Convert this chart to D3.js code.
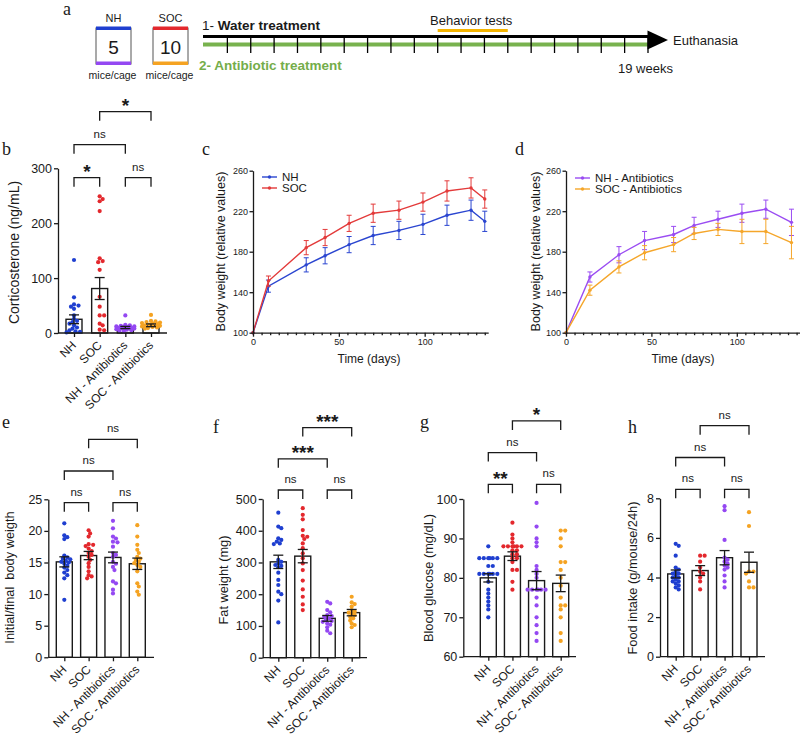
<!DOCTYPE html>
<html><head><meta charset="utf-8">
<script src="https://cdn.jsdelivr.net/npm/d3@7"></script>
<style>
body{margin:0;background:#fff}
svg{display:block}
text{font-family:"Liberation Sans",Arial,sans-serif;fill:#1a1a1a}
</style>
</head><body>
<svg id="chart" width="800" height="737"></svg>
<script>
// ---------------- DATA ----------------
const groups = ["NH", "SOC", "NH - Antibiotics", "SOC - Antibiotics"];
const groupColors = ["#1f3fd0", "#e3282d", "#9448f2", "#f5a322"];

// panel a
const cageNames = ["NH", "SOC"];
const micePerCage = [5, 10];
const cageTopColors = ["#1f3fd0", "#e3282d"];
const cageBottomColors = ["#9448f2", "#f5a322"];
const totalWeeks = 19;
const behaviorWeeks = [10, 13];

// comparisons (pairs of group indices, bracket level)
const bracketPairs = [[0, 1], [2, 3], [0, 2], [1, 3]];
const bracketLevels = [0, 0, 1, 2];

// panel b: corticosterone (ng/mL)
const bNH = [133, 65, 52, 50, 48, 44, 32, 26, 22, 20, 17, 14, 10, 8, 5, 3, 2, 1];
const bSOC = [249, 244, 240, 222, 136, 131, 129, 115, 66, 48, 32, 32, 17, 14, 6, 5];
const bNHAb = [32, 15, 14, 13, 12, 12, 11, 11, 10, 10, 9, 9, 8, 8, 7, 6, 5, 4, 3];
const bSOCAb = [33, 22, 21, 20, 19, 18, 17, 16, 15, 14, 13, 12, 11, 10, 9, 8];
const bMeans = [25, 81, 10, 14];
const bSems = [8, 20, 2, 2.5];
const bSig = ["*", "ns", "ns", "*"];
const bTicks = [0, 100, 200, 300];

// panel c: body weight NH vs SOC
const cDays = [0, 9, 31, 42, 56, 70, 85, 99, 113, 127, 135];
const cNH = [100, 146, 167, 176, 187, 196, 201, 207, 216, 221, 210];
const cNHErr = [0, 6, 7, 8, 8, 9, 9, 10, 10, 10, 10];
const cSOC = [100, 151, 184, 194, 208, 218, 221, 229, 240, 243, 232];
const cSOCErr = [0, 5, 7, 8, 8, 9, 9, 9, 10, 10, 9];

// panel d: body weight with antibiotics
const dDays = [0, 14, 31, 46, 63, 75, 89, 103, 117, 132];
const dNHAb = [100, 155, 177, 191, 197, 206, 212, 218, 222, 209];
const dNHAbErr = [0, 5, 8, 9, 8, 8, 8, 9, 9, 13];
const dSOCAb = [100, 142, 165, 179, 187, 198, 202, 200, 200, 189];
const dSOCAbErr = [0, 5, 6, 7, 7, 6, 6, 12, 12, 16];
const bwTicks = [100, 140, 180, 220, 260];
const dayTicks = [0, 50, 100];

// panel e: initial/final body weight
const eNH = [21.2, 19.3, 19.0, 18.7, 16.1, 15.8, 15.6, 15.5, 15.3, 15.1, 15.0, 14.8, 14.5, 14.2, 13.8, 13.4, 13.0, 12.5, 9.1];
const eSOC = [20.1, 19.6, 19.1, 17.9, 17.8, 17.6, 17.2, 16.8, 16.5, 16.2, 15.9, 15.4, 14.9, 14.3, 13.6, 13.0, 12.8, 12.5];
const eNHAb = [21.6, 20.4, 19.1, 18.8, 18.3, 18.2, 17.5, 16.5, 16.2, 15.9, 15.1, 14.8, 14.3, 13.8, 12.0, 11.7, 10.7, 10.1];
const eSOCAb = [20.9, 19.1, 17.8, 17.0, 16.5, 15.9, 15.6, 15.4, 15.1, 14.9, 14.6, 14.3, 13.6, 11.7, 11.2, 10.4, 9.9];
const eMeans = [15.1, 16.1, 15.8, 14.8];
const eSems = [0.8, 0.65, 0.85, 0.9];
const eSig = ["ns", "ns", "ns", "ns"];
const eTicks = [0, 5, 10, 15, 20, 25];

// panel f: fat weight (mg)
const fNH = [457, 413, 408, 376, 371, 366, 360, 358, 308, 302, 297, 292, 289, 285, 268, 245, 229, 208, 200, 180, 111];
const fSOC = [471, 450, 436, 402, 384, 381, 374, 360, 345, 329, 313, 297, 276, 243, 215, 192, 168, 150];
const fNHAb = [176, 171, 150, 143, 134, 131, 129, 124, 119, 116, 113, 108, 104, 96, 85, 77];
const fSOCAb = [192, 174, 169, 161, 150, 145, 142, 138, 134, 128, 124, 117, 108, 103, 96];
const fMeans = [302, 320, 124, 142];
const fSems = [21, 21, 9, 10];
const fSig = ["ns", "ns", "***", "***"];
const fTicks = [0, 100, 200, 300, 400, 500];

// panel g: blood glucose (mg/dL)
const gNH = [88, 85, 85, 85, 85, 85, 85, 83, 83, 81, 81, 81, 81, 81, 81, 79, 77, 76, 75, 74, 73, 72, 70];
const gSOC = [94, 91, 90, 89, 88, 88, 88, 88, 88, 88, 87, 87, 86, 86, 85, 85, 84, 82, 82, 79, 77];
const gNHAb = [99, 93, 90, 89, 88, 83, 82, 81, 80, 77, 77, 77, 77, 77, 77, 75, 73, 70, 68, 66, 64];
const gSOCAb = [92, 92, 90, 88, 84, 84, 82, 80, 78, 75, 73, 73, 72, 70, 66, 64];
const gMeans = [80.0, 85.5, 79.3, 78.6];
const gSems = [1.05, 1.1, 2.3, 2.1];
const gSig = ["**", "ns", "ns", "*"];
const gTicks = [60, 70, 80, 90, 100];

// panel h: food intake (g/mouse/24h)
const hNH = [5.7, 5.6, 5.1, 4.5, 4.4, 4.3, 4.2, 4.2, 4.1, 4.0, 4.0, 3.9, 3.8, 3.8, 3.7, 3.6, 3.5, 3.4];
const hSOC = [5.1, 5.1, 4.8, 4.5, 4.3, 4.2, 4.0, 3.8, 3.4];
const hNHAb = [7.6, 7.4, 5.9, 5.0, 4.9, 4.8, 4.7, 4.6, 4.5, 4.4, 4.1, 3.8, 3.5];
const hSOCAb = [7.3, 6.6, 4.3, 4.3, 4.2, 3.8, 3.5, 3.5];
const hMeans = [4.18, 4.35, 5.0, 4.77];
const hSems = [0.2, 0.25, 0.36, 0.51];
const hSig = ["ns", "ns", "ns", "ns"];
const hTicks = [0, 2, 4, 6, 8];

// ---------------- DRAWING ----------------
const svg = d3.select("#chart");
const FONT = "'Liberation Sans', Arial, sans-serif";
const SERIF = "'Liberation Serif', 'Times New Roman', serif";
const INK = "#1a1a1a";

function letter(t, x, y) {
  svg.append("text").attr("x", x).attr("y", y).text(t)
    .style("font-family", SERIF).attr("font-size", 18);
}

// ---- panel a ----
(function () {
  letter("a", 63, 14.5);
  const ga = svg.append("g");
  cageNames.forEach((name, i) => {
    const bx = 96 + i * 57, w = 35;
    ga.append("rect").attr("x", bx).attr("y", 28).attr("width", w).attr("height", 36)
      .attr("fill", "#fff").attr("stroke", "#555").attr("stroke-width", 1);
    ga.append("rect").attr("x", bx).attr("y", 26.5).attr("width", w).attr("height", 3.5).attr("fill", cageTopColors[i]);
    ga.append("rect").attr("x", bx).attr("y", 61.5).attr("width", w).attr("height", 3.5).attr("fill", cageBottomColors[i]);
    ga.append("text").attr("x", bx + w / 2).attr("y", 53.5).attr("text-anchor", "middle")
      .attr("font-size", 19).text(micePerCage[i]);
    ga.append("text").attr("x", bx + w / 2).attr("y", 22).attr("text-anchor", "middle")
      .attr("font-size", 11).text(name);
    ga.append("text").attr("x", bx + w / 2 - 1).attr("y", 79).attr("text-anchor", "middle")
      .attr("font-size", 10.5).text("mice/cage");
  });
  const wk = d3.scaleLinear().domain([0, totalWeeks]).range([204, 648]);
  const t1 = ga.append("text").attr("x", 202).attr("y", 29.5).attr("font-size", 13.5);
  t1.append("tspan").text("1- ");
  t1.append("tspan").attr("font-weight", "bold").text("Water treatment");
  ga.append("line").attr("x1", 203).attr("x2", 650).attr("y1", 36.5).attr("y2", 36.5)
    .attr("stroke", "#000").attr("stroke-width", 3);
  ga.append("line").attr("x1", 203).attr("x2", 648).attr("y1", 44.5).attr("y2", 44.5)
    .attr("stroke", "#78b24e").attr("stroke-width", 4);
  ga.selectAll("line.wk").data(d3.range(1, totalWeeks + 1)).join("line").attr("class", "wk")
    .attr("x1", d => wk(d)).attr("x2", d => wk(d)).attr("y1", 36).attr("y2", 53)
    .attr("stroke", "#000").attr("stroke-width", 1.3);
  ga.append("path").attr("d", "M647.5,30.5L668,40L647.5,49.5Z").attr("fill", "#000");
  ga.append("line").attr("x1", wk(behaviorWeeks[0])).attr("x2", wk(behaviorWeeks[1]))
    .attr("y1", 30.5).attr("y2", 30.5).attr("stroke", "#f4b400").attr("stroke-width", 3);
  ga.append("text").attr("x", 430).attr("y", 25).attr("font-size", 13).text("Behavior tests");
  ga.append("text").attr("x", 673).attr("y", 44.5).attr("font-size", 13).text("Euthanasia");
  ga.append("text").attr("x", 618).attr("y", 73).attr("font-size", 13).text(totalWeeks + " weeks");
  ga.append("text").attr("x", 199).attr("y", 70).attr("font-size", 13.5).attr("font-weight", "bold")
    .style("fill", "#74ad4a").text("2- Antibiotic treatment");
})();

// ---- swarm helper (compact, overlap allowed within bar width) ----
function swarmOffsets(vals, y, minD, maxHalf) {
  const pts = vals.map((v, i) => ({ i, py: y(v) })).sort((a, b) => a.py - b.py);
  const placed = [];
  const out = new Array(vals.length).fill(0);
  const step = 1.5;
  const cands = [0];
  for (let k = 1; k * step <= maxHalf; k++) { cands.push(k * step, -k * step); }
  pts.forEach(p => {
    let best = 0, bestD = -1, found = false;
    for (const c of cands) {
      let md = Infinity;
      for (const q of placed) {
        const d = Math.hypot(q.x - c, q.y - p.py);
        if (d < md) md = d;
      }
      if (md >= minD) { best = c; found = true; break; }
      if (md > bestD) { bestD = md; best = c; }
    }
    placed.push({ x: best, y: p.py });
    out[p.i] = best;
  });
  return out;
}

function styleAxis(sel, fs) {
  sel.attr("font-family", FONT).attr("font-size", fs);
  sel.selectAll("path,line").attr("stroke", INK).attr("stroke-width", 1.3);
  sel.selectAll("text").style("fill", INK);
}

// ---- bar panel ----
function barPanel(cfg) {
  const g = svg.append("g");
  const y = d3.scaleLinear().domain(cfg.domain).range(cfg.yRange);
  const x = d3.scalePoint().domain(groups).range(cfg.xRange);
  const y0 = y(cfg.domain[0]);
  const bw = 16;
  g.selectAll("rect.bar").data(cfg.means).join("rect").attr("class", "bar")
    .attr("x", (d, i) => x(groups[i]) - bw / 2).attr("y", d => y(d))
    .attr("width", bw).attr("height", d => y0 - y(d))
    .attr("fill", "#fff").attr("stroke", INK).attr("stroke-width", 1.4);
  cfg.data.forEach((vals, i) => {
    const offs = swarmOffsets(vals, y, 3.2, 9);
    g.selectAll(null).data(vals).join("circle")
      .attr("cx", (d, j) => x(groups[i]) + offs[j]).attr("cy", d => y(d)).attr("r", 2.1)
      .attr("fill", groupColors[i]);
  });
  cfg.means.forEach((m, i) => {
    const cx = x(groups[i]), s = cfg.sems[i];
    const eg = g.append("g").attr("stroke", INK).attr("stroke-width", 1.3);
    eg.append("line").attr("x1", cx).attr("x2", cx).attr("y1", y(m - s)).attr("y2", y(m + s));
    eg.append("line").attr("x1", cx - 5).attr("x2", cx + 5).attr("y1", y(m + s)).attr("y2", y(m + s));
    eg.append("line").attr("x1", cx - 5).attr("x2", cx + 5).attr("y1", y(m - s)).attr("y2", y(m - s));
  });
  const ya = g.append("g").attr("transform", `translate(${cfg.x0},0)`)
    .call(d3.axisLeft(y).tickValues(cfg.ticks).tickSize(4).tickSizeOuter(0).tickPadding(2));
  styleAxis(ya, 12.5);
  const xa = g.append("g").attr("transform", `translate(0,${y0})`)
    .call(d3.axisBottom(x).tickSize(4).tickSizeOuter(0));
  xa.select(".domain").remove();
  xa.append("line").attr("x1", cfg.x0).attr("x2", cfg.x1).attr("y1", 0).attr("y2", 0);
  styleAxis(xa, 12);
  xa.selectAll(".tick text").attr("x", null).attr("y", null).attr("dy", null)
    .attr("text-anchor", "end").attr("transform", "translate(2.5,13) rotate(-45)");
  g.append("text").attr("transform", `translate(${cfg.ylx},${cfg.yly}) rotate(-90)`)
    .attr("text-anchor", "middle").attr("font-size", cfg.ylfs || 12.8).style("white-space", "pre")
    .text(cfg.ylabel);
  bracketPairs.forEach((p, k) => {
    const x1 = x(groups[p[0]]), x2 = x(groups[p[1]]);
    const yb = cfg.bracketBase - bracketLevels[k] * cfg.bracketStep;
    g.append("path").attr("d", `M${x1},${yb + 9}V${yb}H${x2}V${yb + 9}`)
      .attr("fill", "none").attr("stroke", INK).attr("stroke-width", 1.3);
    const lab = cfg.sig[k];
    const t = g.append("text").attr("x", (x1 + x2) / 2).attr("text-anchor", "middle").text(lab);
    if (lab === "ns") t.attr("y", yb - 7).attr("font-size", 11.5);
    else t.attr("y", yb + 0.5).attr("font-size", 19).attr("font-weight", "bold");
  });
  letter(cfg.letter, cfg.lx, cfg.ly);
}

barPanel({ data: [bNH, bSOC, bNHAb, bSOCAb], means: bMeans, sems: bSems, sig: bSig,
  domain: [0, 300], ticks: bTicks, yRange: [333, 168.3], xRange: [74, 151], x0: 58, x1: 167,
  bracketBase: 177.7, bracketStep: 33, ylabel: "Corticosterone (ng/mL)", ylx: 19, yly: 252.5, ylfs: 14,
  letter: "b", lx: 2, ly: 155 });

barPanel({ data: [eNH, eSOC, eNHAb, eSOCAb], means: eMeans, sems: eSems, sig: eSig,
  domain: [0, 25], ticks: eTicks, yRange: [657.3, 499.3], xRange: [64.3, 137.3], x0: 48.3, x1: 154,
  bracketBase: 502.7, bracketStep: 31.7, ylabel: "Initial/final  body weigth", ylx: 13.5, yly: 577.5,
  letter: "e", lx: 2, ly: 428 });

barPanel({ data: [fNH, fSOC, fNHAb, fSOCAb], means: fMeans, sems: fSems, sig: fSig,
  domain: [0, 500], ticks: fTicks, yRange: [657.7, 499], xRange: [278.3, 351.7], x0: 262.7, x1: 367,
  bracketBase: 490, bracketStep: 31.2, ylabel: "Fat weight (mg)", ylx: 228, yly: 580,
  letter: "f", lx: 213, ly: 433 });

barPanel({ data: [gNH, gSOC, gNHAb, gSOCAb], means: gMeans, sems: gSems, sig: gSig,
  domain: [60, 100], ticks: gTicks, yRange: [656.7, 499], xRange: [488.3, 560.7], x0: 463.3, x1: 576,
  bracketBase: 484.3, bracketStep: 31.7, ylabel: "Blood glucose (mg/dL)", ylx: 433, yly: 578,
  letter: "g", lx: 420, ly: 428 });

barPanel({ data: [hNH, hSOC, hNHAb, hSOCAb], means: hMeans, sems: hSems, sig: hSig,
  domain: [0, 8], ticks: hTicks, yRange: [656.7, 498.3], xRange: [675.7, 749], x0: 660, x1: 765,
  bracketBase: 489.3, bracketStep: 31.8, ylabel: "Food intake (g/mouse/24h)", ylx: 636.5, yly: 578,
  letter: "h", lx: 628, ly: 433 });

// ---- line panels ----
function linePanel(cfg) {
  const g = svg.append("g");
  const x = d3.scaleLinear().domain([0, 137]).range(cfg.xRange);
  const y = d3.scaleLinear().domain([100, 260]).range([332.7, 170.7]);
  cfg.series.forEach(s => {
    const sg = g.append("g").attr("stroke", s.color);
    s.values.forEach((v, i) => {
      const e = s.errs[i];
      if (e > 0) {
        const xx = x(s.days[i]);
        sg.append("line").attr("x1", xx).attr("x2", xx).attr("y1", y(v - e)).attr("y2", y(v + e)).attr("stroke-width", 1);
        sg.append("line").attr("x1", xx - 2.5).attr("x2", xx + 2.5).attr("y1", y(v - e)).attr("y2", y(v - e)).attr("stroke-width", 1);
        sg.append("line").attr("x1", xx - 2.5).attr("x2", xx + 2.5).attr("y1", y(v + e)).attr("y2", y(v + e)).attr("stroke-width", 1);
      }
    });
    sg.append("path").datum(s.values)
      .attr("d", d3.line().x((d, i) => x(s.days[i])).y(d => y(d)))
      .attr("fill", "none").attr("stroke-width", 1.4);
    g.selectAll(null).data(s.values).join("circle")
      .attr("cx", (d, i) => x(s.days[i])).attr("cy", d => y(d)).attr("r", 1.7).attr("fill", s.color);
  });
  const ya = g.append("g").attr("transform", `translate(${cfg.xRange[0]},0)`)
    .call(d3.axisLeft(y).tickValues(bwTicks).tickSize(3.5).tickSizeOuter(0).tickPadding(1.5));
  styleAxis(ya, 9);
  const xa = g.append("g").attr("transform", "translate(0,332.7)")
    .call(d3.axisBottom(x).tickValues(d3.range(0, 137, 5))
      .tickFormat(d => dayTicks.includes(d) ? d : "").tickSize(4).tickSizeOuter(0).tickPadding(2));
  styleAxis(xa, 9);
  xa.selectAll(".tick line").attr("y2", d => dayTicks.includes(d) ? 4 : 2.5);
  g.append("text").attr("transform", `translate(${cfg.ylx},251.5) rotate(-90)`)
    .attr("text-anchor", "middle").attr("font-size", 12.5).text("Body weight (relative values)");
  g.append("text").attr("x", cfg.xlx).attr("y", 363).attr("text-anchor", "middle")
    .attr("font-size", 12).text("Time (days)");
  cfg.series.forEach((s, i) => {
    const ly = cfg.legY + i * 11;
    g.append("line").attr("x1", cfg.legX).attr("x2", cfg.legX + 15).attr("y1", ly).attr("y2", ly)
      .attr("stroke", s.color).attr("stroke-width", 1.4);
    g.append("circle").attr("cx", cfg.legX + 7.5).attr("cy", ly).attr("r", 1.7).attr("fill", s.color);
    g.append("text").attr("x", cfg.legX + 20).attr("y", ly + 4).attr("font-size", 11.5).text(s.name);
  });
  letter(cfg.letter, cfg.lx, cfg.ly);
}

linePanel({
  xRange: [253, 488.2], ylx: 224.5, xlx: 369, legX: 262, legY: 177,
  letter: "c", lx: 202, ly: 155,
  series: [
    { name: "NH", color: "#2a45d0", days: cDays, values: cNH, errs: cNHErr },
    { name: "SOC", color: "#e33a3a", days: cDays, values: cSOC, errs: cSOCErr }
  ]
});
linePanel({
  xRange: [566, 800], ylx: 539.5, xlx: 683, legX: 575, legY: 178,
  letter: "d", lx: 515, ly: 155,
  series: [
    { name: "NH - Antibiotics", color: "#9a4cf2", days: dDays, values: dNHAb, errs: dNHAbErr },
    { name: "SOC - Antibiotics", color: "#f5a62a", days: dDays, values: dSOCAb, errs: dSOCAbErr }
  ]
});
</script>
</body></html>
